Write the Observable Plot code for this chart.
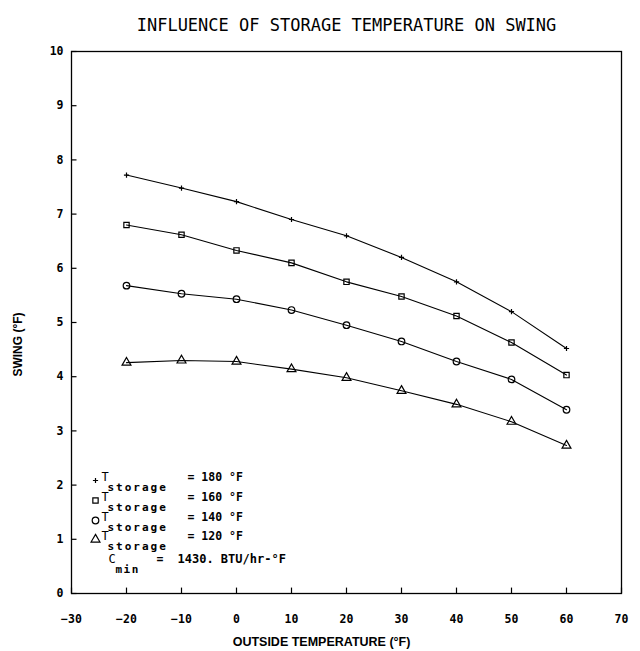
<!DOCTYPE html>
<html><head><meta charset="utf-8">
<script src="https://cdn.jsdelivr.net/npm/d3@7"></script>
<script src="https://cdn.jsdelivr.net/npm/@observablehq/plot@0.6"></script>
<style>body{margin:0;background:#fff} svg{display:block}</style>
</head><body><div id="chart"></div>
<script>
const outsideTemps = [-20, -10, 0, 10, 20, 30, 40, 50, 60];
const swing180 = [7.72, 7.48, 7.23, 6.90, 6.60, 6.20, 5.75, 5.20, 4.52];
const swing160 = [6.80, 6.62, 6.33, 6.10, 5.75, 5.48, 5.12, 4.63, 4.03];
const swing140 = [5.68, 5.53, 5.43, 5.23, 4.95, 4.65, 4.28, 3.95, 3.39];
const swing120 = [4.26, 4.30, 4.28, 4.14, 3.98, 3.74, 3.49, 3.17, 2.73];
const storageTemps = [180, 160, 140, 120];
const symbols = ["plus", "square", "circle", "triangle"];
const xTicks = [-30, -20, -10, 0, 10, 20, 30, 40, 50, 60, 70];
const yTicks = [0, 1, 2, 3, 4, 5, 6, 7, 8, 9, 10];
const legendLabels = storageTemps.map(t => `= ${t} °F`);
const cMin = "1430. BTU/hr-°F";

const series = [swing180, swing160, swing140, swing120];
const markerR = {plus: 1.8, square: 3, circle: 3.3, triangle: 3.3};
const rows = storageTemps.flatMap((t, i) =>
  outsideTemps.map((x, j) => ({T: t, x, y: series[i][j], symbol: symbols[i], r: markerR[symbols[i]]})));

const mono = "'DejaVu Sans Mono', monospace";
const narrow = "'Liberation Sans Narrow', 'Liberation Sans', sans-serif";
const rowDy = [-113, -93, -73, -54];

const legendMarks = storageTemps.flatMap((t, i) => [
  Plot.dot([t], {frameAnchor: "bottom-left", dx: 24, dy: rowDy[i], symbol: () => symbols[i], r: markerR[symbols[i]], stroke: "black", strokeWidth: 1.2, fill: "none"}),
  Plot.text([t], {frameAnchor: "bottom-left", dx: 30, dy: rowDy[i], text: () => "T", textAnchor: "start", fontSize: 12, fontFamily: mono}),
  Plot.text([t], {frameAnchor: "bottom-left", dx: 36, dy: rowDy[i] + 10, text: () => "storage", textAnchor: "start", fontSize: 11, fontWeight: "bold", fontFamily: mono}),
  Plot.text([t], {frameAnchor: "bottom-left", dx: 116, dy: rowDy[i], text: () => legendLabels[i], textAnchor: "start", fontSize: 11.5, fontWeight: "bold", fontFamily: mono})
]);

const chart = Plot.plot({
  width: 640, height: 651,
  marginLeft: 71, marginRight: 19, marginTop: 51, marginBottom: 58,
  x: {domain: [-30, 70]},
  y: {domain: [0, 10]},
  symbol: {type: "identity"},
  r: {type: "identity"},
  style: {background: "white", color: "black", fontFamily: mono},
  marks: [
    Plot.frame({stroke: "black", strokeWidth: 1.3}),
    Plot.ruleX(xTicks, {x: d => d, y1: 0, y2: 0.1, stroke: "black", strokeWidth: 1.2}),
    Plot.ruleY(yTicks, {y: d => d, x1: -30, x2: -29, stroke: "black", strokeWidth: 1.2}),
    Plot.axisX(xTicks, {tickSize: 0, tickPadding: 21, tickFormat: "d", fontWeight: "bold", fontSize: 11.5, label: null, fontFamily: mono}),
    Plot.axisY(yTicks, {tickSize: 0, tickPadding: 8, tickFormat: "d", fontWeight: "bold", fontSize: 11.5, label: null, fontFamily: mono}),
    Plot.line(rows, {x: "x", y: "y", z: "T", stroke: "black", strokeWidth: 1.1}),
    Plot.dot(rows, {x: "x", y: "y", symbol: "symbol", r: "r", stroke: "black", strokeWidth: 1.2, fill: "none"}),
    ...legendMarks,
    Plot.text(["C"], {frameAnchor: "bottom-left", dx: 37, dy: -31, text: d => d, textAnchor: "start", fontSize: 12, fontFamily: mono}),
    Plot.text(["min"], {frameAnchor: "bottom-left", dx: 44, dy: -21, text: d => d, textAnchor: "start", fontSize: 11, fontWeight: "bold", fontFamily: mono}),
    Plot.text(["="], {frameAnchor: "bottom-left", dx: 85, dy: -31, text: d => d, textAnchor: "start", fontSize: 11.5, fontWeight: "bold", fontFamily: mono}),
    Plot.text([cMin], {frameAnchor: "bottom-left", dx: 106, dy: -31, text: d => d, textAnchor: "start", fontSize: 12, fontWeight: "bold", fontFamily: mono}),
    Plot.text(["INFLUENCE OF STORAGE TEMPERATURE ON SWING"], {frameAnchor: "top", dy: -33, text: d => d, textAnchor: "middle", fontSize: 17, fontFamily: mono}),
    Plot.text(["OUTSIDE TEMPERATURE (°F)"], {frameAnchor: "bottom", dx: -25, dy: 52, text: d => d, textAnchor: "middle", fontSize: 12.5, fontWeight: "bold", fontFamily: narrow}),
    Plot.text(["SWING (°F)"], {frameAnchor: "left", dx: -53, dy: 22, rotate: -90, text: d => d, textAnchor: "middle", fontSize: 12, fontWeight: "bold", fontFamily: narrow})
  ]
});
d3.select(chart).selectAll("text").filter(function() { return this.textContent === "storage" || this.textContent === "min"; })
  .attr("letter-spacing", function() { return this.textContent === "storage" ? 2 : 1.5; });
document.getElementById("chart").appendChild(chart);
</script>
</body></html>
